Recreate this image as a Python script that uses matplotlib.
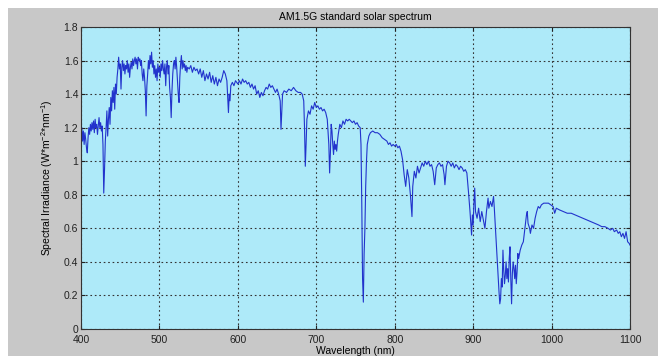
import matplotlib.pyplot as plt
from matplotlib.patches import Rectangle
from matplotlib.ticker import FormatStrFormatter

# Valores (comprimento de onda em nm, irradiância em W/m2/nm)
wavelength = [
    400, 401, 402, 403, 404, 405, 406, 407, 408, 409, 410, 411, 412, 413, 414, 415, 416, 417, 418, 419,
    420, 421, 422, 423, 424, 425, 426, 427, 428, 429, 430, 431, 432, 433, 434, 435, 436, 437, 438, 439,
    440, 441, 442, 443, 444, 445, 446, 447, 448, 449, 450, 451, 452, 453, 454, 455, 456, 457, 458, 459,
    460, 461, 462, 463, 464, 465, 466, 467, 468, 469, 470, 471, 472, 473, 474, 475, 476, 477, 478, 479,
    480, 481, 482, 483, 484, 485, 486, 487, 488, 489, 490, 491, 492, 493, 494, 495, 496, 497, 498, 499,
    500, 501, 502, 503, 504, 505, 506, 507, 508, 509, 510, 511, 512, 513, 514, 515, 516, 517, 518, 519,
    520, 521, 522, 523, 524, 525, 526, 527, 528, 529, 530, 531, 532, 533, 534, 535, 536, 538, 540, 542,
    544, 546, 548, 550, 552, 554, 556, 558, 560, 562, 564, 566, 568, 570, 572, 574, 576, 578, 580, 582,
    584, 586, 587, 588, 589, 590, 591, 593, 595, 597, 600, 602, 604, 606, 608, 610, 612, 614, 616, 618,
    620, 622, 624, 626, 628, 630, 632, 634, 636, 638, 640, 642, 644, 646, 648, 650, 652, 654, 655, 656,
    657, 659, 662, 665, 668, 671, 674, 677, 680, 682, 684, 685, 686, 687, 688, 690, 692, 694, 696, 698,
    700, 702, 704, 706, 708, 710, 712, 714, 716, 717, 718, 719, 720, 721, 722, 723, 724, 725, 726, 727,
    728, 730, 732, 734, 736, 738, 740, 742, 744, 746, 748, 750, 752, 754, 756, 757, 758, 759, 760, 761,
    762, 763, 764, 765, 767, 769, 772, 775, 778, 781, 784, 787, 790, 792, 794, 796, 798, 800, 802, 804,
    806, 808, 810, 812, 814, 816, 818, 820, 822, 823, 825, 827, 829, 831, 833, 835, 837, 839, 841, 843,
    845, 847, 849, 851, 853, 855, 857, 859, 861, 863, 864, 866, 868, 870, 872, 874, 876, 878, 880, 882,
    884, 886, 888, 890, 892, 894, 896, 898, 899, 900, 901, 902, 903, 905, 907, 909, 911, 913, 915, 917,
    919, 920, 922, 924, 926, 927, 929, 931, 933, 934, 935, 936, 937, 938, 939, 940, 941, 942, 943, 944,
    945, 946, 947, 948, 949, 950, 951, 952, 953, 954, 955, 956, 957, 958, 960, 962, 964, 966, 968, 969,
    970, 972, 973, 975, 977, 979, 981, 983, 985, 987, 990, 993, 996, 999, 1002, 1004, 1006, 1010, 1015, 1020,
    1025, 1030, 1035, 1040, 1045, 1050, 1055, 1060, 1064, 1068, 1072, 1075, 1078, 1080, 1083, 1085, 1087, 1089, 1091, 1093,
    1095, 1097, 1099, 1100,
]
irradiance = [
    1.16, 1.20, 1.12, 1.18, 1.10, 1.17, 1.13, 1.08, 1.05, 1.14, 1.20, 1.16, 1.22, 1.18, 1.23, 1.19, 1.24, 1.17, 1.25, 1.20,
    1.22, 1.16, 1.21, 1.26, 1.20, 1.23, 1.18, 1.21, 1.10, 0.81, 0.95, 1.12, 1.20, 1.30, 1.15, 1.25, 1.32, 1.22, 1.38, 1.30,
    1.42, 1.35, 1.44, 1.31, 1.46, 1.40, 1.50, 1.55, 1.62, 1.55, 1.58, 1.43, 1.56, 1.60, 1.54, 1.58, 1.52, 1.57, 1.55, 1.60,
    1.53, 1.58, 1.50, 1.56, 1.59, 1.55, 1.61, 1.57, 1.60, 1.62, 1.58, 1.61, 1.55, 1.62, 1.60, 1.61, 1.57, 1.60, 1.52, 1.48,
    1.55, 1.50, 1.42, 1.27, 1.45, 1.52, 1.60, 1.55, 1.63, 1.58, 1.65, 1.56, 1.60, 1.52, 1.57, 1.50, 1.55, 1.48, 1.58, 1.53,
    1.56, 1.50, 1.58, 1.54, 1.60, 1.55, 1.52, 1.58, 1.45, 1.56, 1.60, 1.52, 1.57, 1.44, 1.38, 1.26, 1.42, 1.52, 1.58, 1.60,
    1.55, 1.62, 1.56, 1.48, 1.40, 1.35, 1.50, 1.58, 1.63, 1.55, 1.60, 1.56, 1.58, 1.54, 1.57, 1.53, 1.56, 1.55, 1.57, 1.53,
    1.56, 1.54, 1.55, 1.52, 1.55, 1.50, 1.54, 1.48, 1.52, 1.49, 1.53, 1.47, 1.51, 1.46, 1.50, 1.45, 1.49, 1.47, 1.50, 1.54,
    1.52, 1.48, 1.38, 1.29, 1.40, 1.36, 1.45, 1.47, 1.45, 1.48, 1.46, 1.48, 1.46, 1.49, 1.47, 1.48, 1.46, 1.47, 1.44, 1.46,
    1.43, 1.45, 1.40, 1.42, 1.38, 1.41, 1.39, 1.42, 1.44, 1.43, 1.46, 1.44, 1.45, 1.43, 1.41, 1.43, 1.40, 1.36, 1.19, 1.30,
    1.40, 1.42, 1.41, 1.43, 1.42, 1.44, 1.42, 1.41, 1.41, 1.40, 1.36, 1.20, 0.97, 1.10, 1.25, 1.30, 1.28, 1.33, 1.31, 1.35,
    1.32, 1.33, 1.31, 1.32, 1.30, 1.31, 1.29, 1.25, 1.10, 0.93, 1.05, 1.22, 1.18, 1.10, 1.04, 1.12, 1.07, 1.10, 1.06, 1.12,
    1.16, 1.22, 1.20, 1.24, 1.22, 1.25, 1.24, 1.25, 1.24, 1.23, 1.24, 1.22, 1.23, 1.21, 1.20, 1.10, 0.75, 0.30, 0.16, 0.45,
    0.60, 0.85, 1.00, 1.10, 1.15, 1.17, 1.18, 1.17, 1.17, 1.16, 1.14, 1.13, 1.12, 1.10, 1.11, 1.09, 1.10, 1.09, 1.10, 1.08,
    1.09, 1.06, 1.01, 0.92, 0.85, 0.95, 0.90, 0.80, 0.67, 0.85, 0.94, 0.90, 0.97, 0.93, 0.96, 0.99, 0.97, 1.00, 0.98, 1.00,
    0.97, 0.98, 0.94, 0.86, 0.96, 0.98, 0.99, 0.97, 0.98, 0.92, 0.86, 0.97, 1.00, 0.99, 0.97, 0.99, 0.96, 0.98, 0.97, 0.95,
    0.97, 0.96, 0.94, 0.95, 0.93, 0.82, 0.70, 0.56, 0.68, 0.62, 0.75, 0.84, 0.70, 0.66, 0.72, 0.64, 0.70, 0.65, 0.60, 0.70,
    0.78, 0.72, 0.76, 0.73, 0.79, 0.72, 0.55, 0.38, 0.22, 0.15, 0.18, 0.30, 0.25, 0.47, 0.35, 0.27, 0.32, 0.40, 0.30, 0.36,
    0.28, 0.42, 0.49, 0.30, 0.15, 0.33, 0.40, 0.36, 0.30, 0.38, 0.27, 0.34, 0.45, 0.42, 0.47, 0.50, 0.52, 0.60, 0.68, 0.70,
    0.63, 0.60, 0.57, 0.62, 0.60, 0.66, 0.70, 0.73, 0.72, 0.74, 0.75, 0.75, 0.75, 0.74, 0.73, 0.69, 0.72, 0.71, 0.70, 0.69,
    0.69, 0.68, 0.67, 0.66, 0.65, 0.64, 0.63, 0.62, 0.61, 0.61, 0.60, 0.59, 0.60, 0.58, 0.59, 0.57, 0.58, 0.55, 0.57, 0.54,
    0.58, 0.52, 0.51, 0.50,
]

x_ticks = [400, 500, 600, 700, 800, 900, 1000, 1100]
y_ticks = [0, 0.2, 0.4, 0.6, 0.8, 1.0, 1.2, 1.4, 1.6, 1.8]

plt.rcParams['font.family'] = ['Liberation Sans', 'DejaVu Sans']
plt.rcParams['mathtext.fontset'] = 'custom'
plt.rcParams['mathtext.rm'] = 'Liberation Sans'
plt.rcParams['mathtext.default'] = 'regular'

fig = plt.figure(figsize=(6.58, 3.56), dpi=100, facecolor='white')
# fundo cinza estilo MATLAB (com a borda branca em cima e à esquerda)
fundo = Rectangle((8 / 658, 0), 1, 1 - 8 / 356, transform=fig.transFigure,
                  facecolor='#c8c8c8', edgecolor='none', zorder=-10)
fig.add_artist(fundo)

ax = fig.add_axes([81 / 658, 27 / 356, 549 / 658, 302 / 356])
ax.set_zorder(1)
ax.set_facecolor('#aeeaf9')
ax.plot(wavelength, irradiance, color='#2233cc', lw=0.8)

ax.set_xlim(400, 1100)
ax.set_ylim(0, 1.8)
ax.set_xticks(x_ticks)
ax.set_yticks(y_ticks)
ax.yaxis.set_major_formatter(FormatStrFormatter('%g'))
ax.tick_params(direction='in', length=3, labelsize=7.5, colors='#222222', pad=2,
               top=True, right=True)
ax.tick_params(axis='x', pad=4)
ax.grid(True, color='#333333', linestyle=(0, (1.5, 2.5)), linewidth=0.8)
for s in ax.spines.values():
    s.set_color('#333333')
    s.set_linewidth(0.8)

ax.set_title("AM1.5G standard solar spectrum", fontsize=7.5, pad=5)
ax.set_xlabel("Wavelength (nm)", fontsize=7.5, labelpad=1)
ax.set_ylabel("Spectral Irradiance (W*m$^{-2}$*nm$^{-1}$)", fontsize=7.5, labelpad=6)

fig.savefig("out.png", dpi=100, facecolor=fig.get_facecolor())
